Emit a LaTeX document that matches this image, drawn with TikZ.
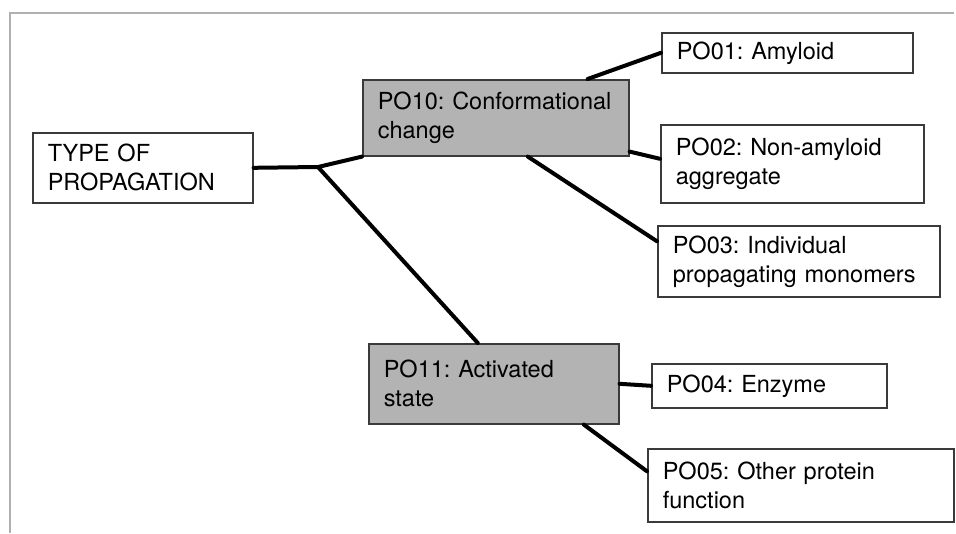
\documentclass[tikz,border=0pt]{standalone}
\usepackage{fontspec}
\setmainfont{TeX Gyre Heros}
\frenchspacing
\hyphenpenalty=10000
\definecolor{boxedge}{HTML}{3A3A3A}
\definecolor{boxfill}{HTML}{B3B3B3}
\definecolor{framegray}{HTML}{B0B0B0}

\begin{document}
\begin{tikzpicture}[x=1pt,y=-1pt,
    box/.style={draw=boxedge,line width=1.6pt,anchor=north west,align=left,
        inner xsep=15pt,inner ysep=0pt,font=\fontsize{23.5}{29}\selectfont},
    shaded/.style={box,fill=boxfill},
    link/.style={line width=4pt,line cap=round,line join=round}]
\useasboundingbox (0,0) rectangle (956,533);

% Frame
\draw[framegray,line width=1.8pt] (10,533) -- (10,13) -- (954,13);

% Root and classes
\node[box,text width=190pt,minimum height=70pt] (root) at (32,132) {TYPE OF\\PROPAGATION};
\node[shaded,text width=236pt,minimum height=76pt] (po10) at (362,79) {PO10: Conformational\\change};
\node[shaded,text width=220pt,minimum height=80pt] (po11) at (368,343) {PO11: Activated\\state};
\coordinate (j) at (318,167);

% Leaves
\node[box,text width=221pt,minimum height=40pt] (po01) at (661,32) {PO01: Amyloid};
\node[box,text width=233pt,minimum height=78pt] (po02) at (660,124) {PO02: Non-amyloid\\aggregate};
\node[box,text width=252pt,minimum height=71pt] (po03) at (657,225) {PO03: Individual\\propagating monomers};
\node[box,text width=205pt,minimum height=44pt] (po04) at (651,363) {PO04: Enzyme};
\node[box,text width=276pt,minimum height=73pt] (po05) at (647,448) {PO05: Other protein\\function};

% Links
\draw[link] (root.east) -- (j) -- (po10.south west);       % root -> PO10
\draw[link] (j) -- ([xshift=-16pt]po11.north);              % root -> PO11
\draw[link] ([xshift=-42pt]po10.north east) -- (po01.west); % PO10 -> PO01
\draw[link] ([yshift=5pt]po10.south east) -- ([yshift=5pt]po02.west); % PO10 -> PO02
\draw[link] ([xshift=32pt]po10.south) -- ([yshift=20pt]po03.west);   % PO10 -> PO03
\draw[link] (po11.east) -- (po04.west);                     % PO11 -> PO04
\draw[link] ([xshift=90pt]po11.south) -- ([yshift=14pt]po05.west);   % PO11 -> PO05
\end{tikzpicture}
\end{document}
